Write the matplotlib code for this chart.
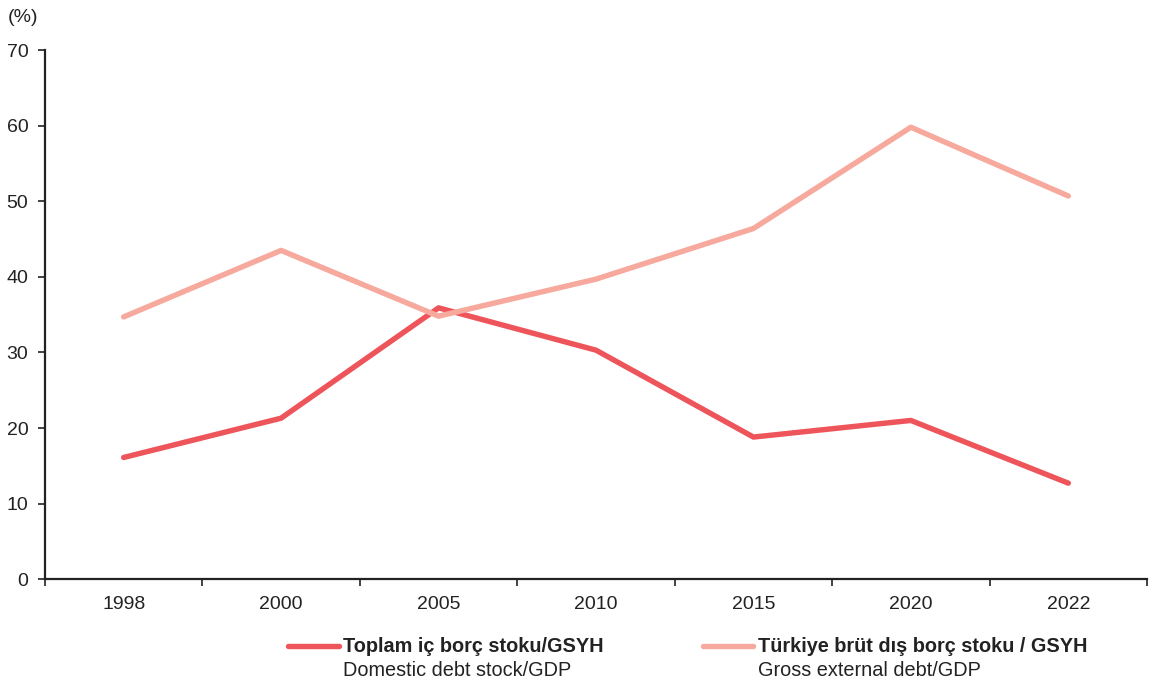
import matplotlib
matplotlib.use("Agg")
import matplotlib.pyplot as plt
from matplotlib.lines import Line2D
import numpy as np

plt.rcParams['font.family'] = ['Liberation Sans', 'DejaVu Sans']

years = ["1998", "2000", "2005", "2010", "2015", "2020", "2022"]
domestic = [16.1, 21.3, 35.9, 30.3, 18.8, 21.0, 12.7]
external = [34.7, 43.5, 34.8, 39.7, 46.4, 59.8, 50.7]

red = "#EE555B"
pink = "#F6A99C"
text_col = "#222222"

fig = plt.figure(figsize=(11.52, 6.87), dpi=100)
ax = fig.add_axes([0.039, 0.157, 0.9567, 0.770])

x = np.arange(len(years))
ax.plot(x, domestic, color=red, lw=3.9, solid_capstyle='round', solid_joinstyle='round', zorder=2)
ax.plot(x, external, color=pink, lw=3.9, solid_capstyle='round', solid_joinstyle='round', zorder=3)

ax.set_xlim(-0.5, len(years) - 0.5)
ax.set_ylim(0, 70)
ax.set_yticks(range(0, 71, 10))
ax.tick_params(axis='y', labelsize=14, colors=text_col, length=5, width=1.2, pad=7)
ax.set_xticks(x)
ax.set_xticklabels(years)
ax.set_xticks(np.arange(-0.5, len(years), 1), minor=True)
ax.tick_params(axis='x', which='major', length=0, labelsize=14, colors=text_col, pad=12)
ax.tick_params(axis='x', which='minor', length=5, width=1.2, color=text_col)
for lab in ax.get_yticklabels() + ax.get_xticklabels():
    lab.set_color(text_col)

for s in ['top', 'right']:
    ax.spines[s].set_visible(False)
for s in ['left', 'bottom']:
    ax.spines[s].set_linewidth(1.6)
    ax.spines[s].set_color(text_col)

fig.text(0.007, 0.975, "(%)", fontsize=14, color=text_col, ha='left', va='center')

# legend
entries = [
    (red, "Toplam iç borç stoku/GSYH", "Domestic debt stock/GDP", 0.250),
    (pink, "Türkiye brüt dış borç stoku / GSYH", "Gross external debt/GDP", 0.610),
]
ly = 0.059
for col, tr, en, x0 in entries:
    fig.add_artist(Line2D([x0, x0 + 0.044], [ly, ly], transform=fig.transFigure,
                          color=col, lw=3.9, solid_capstyle='round'))
    fig.text(x0 + 0.048, ly, tr, fontsize=14.3, fontweight='bold', color=text_col,
             ha='left', va='center')
    fig.text(x0 + 0.048, ly - 0.035, en, fontsize=14.3, color=text_col, ha='left', va='center')

fig.savefig("out.png", dpi=100)
